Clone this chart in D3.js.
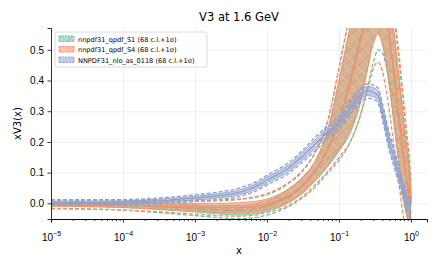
<!DOCTYPE html>
<meta charset="utf-8">
<script src="https://d3js.org/d3.v7.min.js"></script>
<style>
body { margin: 0; background: #fff; }
svg { font-family: "DejaVu Sans", sans-serif; }
.grid line { stroke: #ebebeb; stroke-width: 0.8; }
.grid path { stroke-width: 0; }
.axis path, .axis line { stroke: #000; stroke-width: 0.8; }
.axis text { font-size: 10px; fill: #000; }
</style>
<body>
<script>
// x grid shared by every set
var xGrid = [1e-5, 3e-5, 1e-4, 3e-4, 1e-3, 2e-3, 4e-3, 7e-3, 1e-2, 2e-2, 3e-2, 5e-2, 7e-2,
             0.1, 0.15, 0.2, 0.25, 0.3, 0.35, 0.4, 0.5, 0.6, 0.7, 0.8, 0.9, 0.95, 1.0];

// nnpdf31_qpdf_S1
var s1Central = [-0.004,-0.005,-0.007,-0.011,-0.017,-0.021,-0.023,-0.018,-0.009,0.022,0.052,0.115,0.175,
                 0.27,0.42,0.54,0.63,0.69,0.71,0.68,0.54,0.39,0.25,0.13,0.05,0.0,-0.12];
var s1Lo68 = [-0.009,-0.011,-0.014,-0.02,-0.028,-0.034,-0.038,-0.034,-0.026,0.002,0.03,0.08,0.12,
              0.17,0.24,0.33,0.44,0.53,0.555,0.52,0.38,0.23,0.10,0.0,-0.06,-0.1,-0.3];
var s1Hi68 = [0.002,0.002,0.001,-0.001,-0.005,-0.007,-0.007,-0.001,0.008,0.045,0.08,0.15,0.24,
              0.40,0.6,0.75,0.85,0.9,0.9,0.85,0.68,0.52,0.38,0.25,0.15,0.11,0.0];
var s1Lo1s = [-0.016,-0.018,-0.022,-0.03,-0.04,-0.046,-0.05,-0.046,-0.038,-0.01,0.015,0.06,0.1,
              0.14,0.21,0.29,0.38,0.46,0.5,0.49,0.4,0.326,0.264,0.21,0.163,0.06,-0.15];
var s1Hi1s = [0.010,0.010,0.009,0.008,0.007,0.008,0.012,0.02,0.028,0.065,0.1,0.18,0.27,
              0.44,0.65,0.8,0.9,0.95,0.95,0.9,0.74,0.58,0.44,0.3,0.19,0.14,0.0];

// nnpdf31_qpdf_S4
var s4Central = [-0.003,-0.004,-0.005,-0.008,-0.012,-0.014,-0.014,-0.01,-0.003,0.025,0.055,0.118,0.178,
                 0.27,0.41,0.53,0.62,0.68,0.70,0.67,0.54,0.40,0.26,0.14,0.06,0.01,-0.1];
var s4Lo68 = [-0.009,-0.01,-0.013,-0.018,-0.025,-0.029,-0.031,-0.027,-0.02,0.004,0.032,0.085,0.125,
              0.175,0.25,0.34,0.44,0.52,0.55,0.52,0.39,0.24,0.11,0.01,-0.05,-0.09,-0.3];
var s4Hi68 = [0.003,0.003,0.003,0.002,0.0,0.0,0.002,0.007,0.014,0.048,0.082,0.152,0.24,
              0.40,0.6,0.74,0.84,0.89,0.9,0.86,0.69,0.53,0.39,0.26,0.16,0.12,0.0];
var s4Lo1s = [-0.018,-0.019,-0.022,-0.027,-0.035,-0.04,-0.042,-0.038,-0.03,-0.006,0.02,0.068,0.105,
              0.15,0.21,0.29,0.37,0.44,0.46,0.43,0.3,0.16,0.04,-0.06,-0.15,-0.2,-0.4];
var s4Hi1s = [0.012,0.012,0.012,0.011,0.01,0.011,0.014,0.022,0.032,0.068,0.104,0.18,0.27,
              0.44,0.65,0.8,0.92,0.96,0.96,0.92,0.76,0.6,0.46,0.32,0.2,0.15,0.0];

// NNPDF31_nlo_as_0118
var nnCentral = [0.003,0.003,0.004,0.008,0.017,0.024,0.035,0.055,0.076,0.115,0.15,0.2,0.232,
                 0.262,0.318,0.352,0.366,0.362,0.35,0.3,0.2,0.137,0.08,0.035,0.0,-0.01,-0.03];
var nnLo68 = [-0.001,-0.001,0.0,0.003,0.011,0.017,0.027,0.046,0.066,0.104,0.138,0.186,0.218,
              0.248,0.303,0.337,0.351,0.347,0.334,0.283,0.181,0.118,0.062,0.018,-0.015,-0.026,-0.05];
var nnHi68 = [0.007,0.007,0.008,0.013,0.023,0.031,0.043,0.064,0.086,0.126,0.162,0.214,0.246,
              0.276,0.333,0.367,0.381,0.377,0.366,0.317,0.219,0.156,0.098,0.052,0.015,0.006,-0.01];
var nnLo1s = [-0.005,-0.005,-0.004,-0.001,0.006,0.012,0.021,0.04,0.06,0.097,0.131,0.178,0.21,
              0.24,0.295,0.329,0.343,0.339,0.325,0.274,0.171,0.108,0.052,0.008,-0.025,-0.036,-0.06];
var nnHi1s = [0.011,0.011,0.012,0.017,0.028,0.036,0.049,0.07,0.092,0.133,0.169,0.222,0.254,
              0.284,0.341,0.375,0.389,0.385,0.375,0.326,0.229,0.166,0.108,0.062,0.025,0.016,0.0];

var legendLabels = ["nnpdf31_qpdf_S1 (68 c.l.+1σ)", "nnpdf31_qpdf_S4 (68 c.l.+1σ)", "NNPDF31_nlo_as_0118 (68 c.l.+1σ)"];
var colors = ["#66c2a5", "#fc8d62", "#8da0cb"];
var yTicks = [0.0, 0.1, 0.2, 0.3, 0.4, 0.5];
var xTicks = [1e-5, 1e-4, 1e-3, 1e-2, 1e-1, 1];

var sets = [
  {name: legendLabels[0], color: colors[0], c: s1Central, lo: s1Lo68, hi: s1Hi68, lo1: s1Lo1s, hi1: s1Hi1s, pat: "hatchS1"},
  {name: legendLabels[1], color: colors[1], c: s4Central, lo: s4Lo68, hi: s4Hi68, lo1: s4Lo1s, hi1: s4Hi1s, pat: "hatchS4"},
  {name: legendLabels[2], color: colors[2], c: nnCentral, lo: nnLo68, hi: nnHi68, lo1: nnLo1s, hi1: nnHi1s, pat: "hatchNN"}
];

var W = 443, H = 272;
var margin = {top: 28, right: 16, bottom: 53, left: 51};
var width = W - margin.left - margin.right;
var height = H - margin.top - margin.bottom;

var svg = d3.select("body").append("svg").attr("width", W).attr("height", H);
var defs = svg.append("defs");

// hatch patterns for the bands
function hatch(id, color, angle, lineColor, dash) {
  var p = defs.append("pattern").attr("id", id).attr("patternUnits", "userSpaceOnUse")
    .attr("width", 9).attr("height", 9).attr("patternTransform", "rotate(" + angle + ")");
  p.append("rect").attr("width", 9).attr("height", 9).attr("fill", color).attr("fill-opacity", 0.55);
  p.append("line").attr("x1", 0).attr("y1", 0).attr("x2", 0).attr("y2", 9)
    .attr("stroke", lineColor).attr("stroke-width", 1).attr("stroke-dasharray", dash);
}
hatch("hatchS1", colors[0], 45, "#5aa88f", null);
hatch("hatchS4", colors[1], -45, "#ffe6dc", "1.5,1.5");
hatch("hatchNN", colors[2], 90, "#ffffff", "2,2");

defs.append("clipPath").attr("id", "plotclip").append("rect")
  .attr("width", width).attr("height", height);

var g = svg.append("g").attr("transform", "translate(" + margin.left + "," + margin.top + ")");

var x = d3.scaleLog().domain([1e-5, Math.pow(10, 0.222)]).range([0, width]);
var y = d3.scaleLinear().domain([-0.051, 0.571]).range([height, 0]);

// grid
g.append("g").attr("class", "grid")
  .attr("transform", "translate(0," + height + ")")
  .call(d3.axisBottom(x).tickValues(xTicks).tickSize(-height).tickFormat(""));
g.append("g").attr("class", "grid")
  .call(d3.axisLeft(y).tickValues(yTicks).tickSize(-width).tickFormat(""));

var area = function(lo, hi) {
  return d3.area().curve(d3.curveMonotoneX)
    .x(function(d, i) { return x(xGrid[i]); })
    .y0(function(d, i) { return y(lo[i]); })
    .y1(function(d, i) { return y(hi[i]); })(xGrid);
};
var line = d3.line().curve(d3.curveMonotoneX)
  .x(function(d, i) { return x(xGrid[i]); })
  .y(function(d) { return y(d); });

var plot = g.append("g").attr("clip-path", "url(#plotclip)");

sets.forEach(function(s) {
  var sg = plot.append("g");
  sg.append("path").attr("d", area(s.lo, s.hi)).attr("fill", "url(#" + s.pat + ")");
  [s.lo, s.hi].forEach(function(arr) {
    sg.append("path").attr("d", line(arr)).attr("fill", "none")
      .attr("stroke", s.color).attr("stroke-width", 0.9);
  });
  sg.append("path").attr("d", line(s.c)).attr("fill", "none")
    .attr("stroke", s.color).attr("stroke-width", 1.3);
  [s.lo1, s.hi1].forEach(function(arr) {
    sg.append("path").attr("d", line(arr)).attr("fill", "none")
      .attr("stroke", s.color).attr("stroke-width", 1.3).attr("stroke-dasharray", "4,2");
  });
});

// axes
var minor = [];
for (var e = -5; e <= 0; e++) for (var k = 2; k <= 9; k++) {
  var v = k * Math.pow(10, e);
  if (v <= x.domain()[1]) minor.push(v);
}
g.append("g").attr("class", "axis")
  .attr("transform", "translate(0," + height + ")")
  .call(d3.axisBottom(x).tickValues(minor).tickSize(2).tickFormat(""));

var xAxisG = g.append("g").attr("class", "axis")
  .attr("transform", "translate(0," + height + ")")
  .call(d3.axisBottom(x).tickValues(xTicks).tickSize(3.5).tickFormat(""));
xAxisG.selectAll(".tick").append("text")
  .attr("y", 21.5).attr("text-anchor", "middle").attr("fill", "#000")
  .each(function(d) {
    var p = Math.round(Math.log10(d));
    var t = d3.select(this);
    t.append("tspan").text("10");
    t.append("tspan").attr("dy", -4.5).attr("font-size", "7px").text(p < 0 ? "−" + (-p) : String(p));
  });

g.append("g").attr("class", "axis")
  .call(d3.axisLeft(y).tickValues(yTicks).tickSize(3.5).tickPadding(3.5).tickFormat(d3.format(".1f")));

// title and labels
svg.append("text").attr("x", margin.left + width / 2).attr("y", 21)
  .attr("text-anchor", "middle").attr("font-size", "11.5px").text("V3 at 1.6 GeV");
svg.append("text").attr("x", margin.left + width / 2).attr("y", 254)
  .attr("text-anchor", "middle").attr("font-size", "10px").text("x");
svg.append("text").attr("transform", "translate(21," + (margin.top + height / 2) + ") rotate(-90)")
  .attr("text-anchor", "middle").attr("font-size", "10px").text("xV3(x)");

// legend
var leg = svg.append("g").attr("transform", "translate(55,32)");
leg.append("rect").attr("width", 152).attr("height", 35).attr("rx", 2)
  .attr("fill", "#fff").attr("fill-opacity", 0.8).attr("stroke", "#d0d0d0").attr("stroke-width", 0.8);
sets.forEach(function(s, i) {
  var row = leg.append("g").attr("transform", "translate(4," + (4 + i * 10.5) + ")");
  row.append("rect").attr("width", 15).attr("height", 5.5)
    .attr("fill", "url(#" + s.pat + ")").attr("stroke", s.color)
    .attr("stroke-width", 1).attr("stroke-dasharray", "2,1");
  row.append("text").attr("x", 19).attr("y", 5.5).attr("font-size", "6.6px").text(s.name);
});
</script>
</body>
